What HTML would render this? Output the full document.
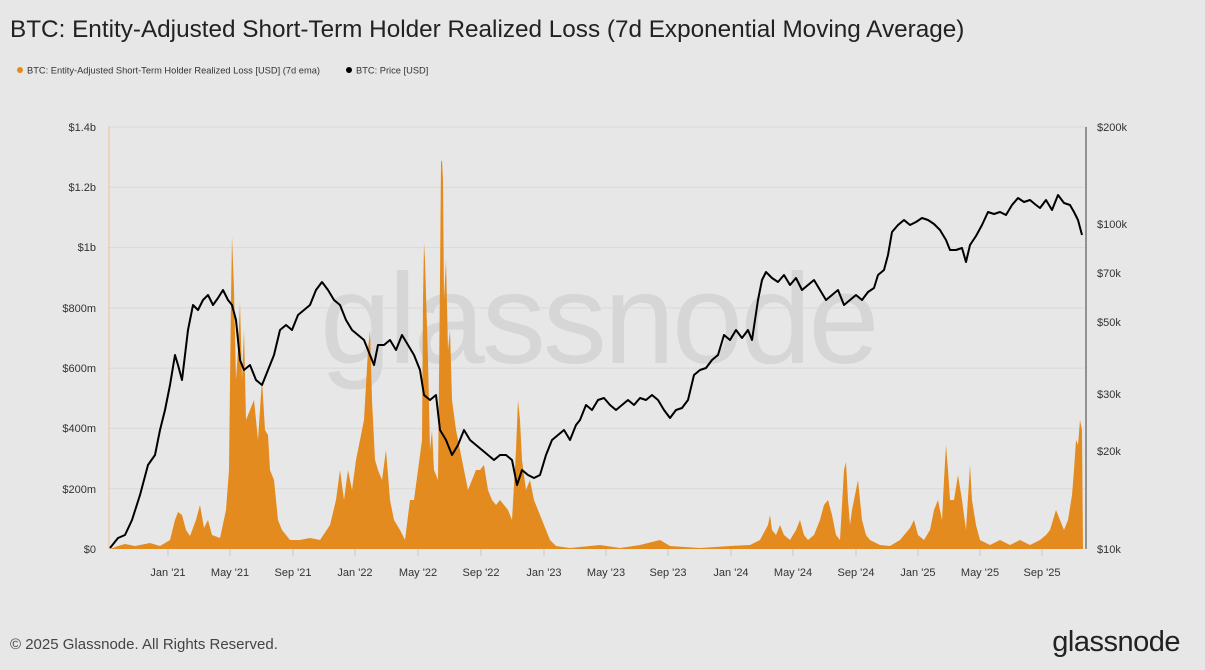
<!DOCTYPE html>
<html><head><meta charset="utf-8"><style>
html,body{margin:0;padding:0;background:#e7e7e7;}
body{width:1205px;height:670px;position:relative;overflow:hidden;font-family:"Liberation Sans",sans-serif;}
</style></head><body>
<svg width="1205" height="670" xmlns="http://www.w3.org/2000/svg" style="position:absolute;left:0;top:0">
<rect width="1205" height="670" fill="#e7e7e7"/>
<text x="10" y="37" font-size="24.3" fill="#222">BTC: Entity-Adjusted Short-Term Holder Realized Loss (7d Exponential Moving Average)</text>
<circle cx="20" cy="70" r="3" fill="#e8891c"/>
<text x="27" y="73.5" font-size="9.3" fill="#333">BTC: Entity-Adjusted Short-Term Holder Realized Loss [USD] (7d ema)</text>
<circle cx="349" cy="70" r="3" fill="#000"/>
<text x="356" y="73.5" font-size="9.3" fill="#333">BTC: Price [USD]</text>
<g stroke="#d9d9d9" stroke-width="1">
<line x1="108" x2="1085" y1="127" y2="127"/><line x1="108" x2="1085" y1="187.3" y2="187.3"/>
<line x1="108" x2="1085" y1="247.6" y2="247.6"/><line x1="108" x2="1085" y1="307.9" y2="307.9"/>
<line x1="108" x2="1085" y1="368.1" y2="368.1"/><line x1="108" x2="1085" y1="428.4" y2="428.4"/>
<line x1="108" x2="1085" y1="488.7" y2="488.7"/>
</g>
<text x="320" y="363" font-size="128" fill="#d6d6d6" letter-spacing="-3">glassnode</text>
<g font-size="11" fill="#333" text-anchor="end">
<text x="96" y="131">$1.4b</text><text x="96" y="191">$1.2b</text><text x="96" y="251">$1b</text>
<text x="96" y="312">$800m</text><text x="96" y="372">$600m</text><text x="96" y="432">$400m</text>
<text x="96" y="493">$200m</text><text x="96" y="553">$0</text>
</g>
<g font-size="11" fill="#333">
<text x="1097" y="131">$200k</text><text x="1097" y="228">$100k</text><text x="1097" y="277">$70k</text>
<text x="1097" y="326">$50k</text><text x="1097" y="398">$30k</text><text x="1097" y="455">$20k</text>
<text x="1097" y="553">$10k</text>
</g>
<g stroke="#c8c8c8" stroke-width="1">
<line x1="168" x2="168" y1="549" y2="556"/><line x1="230" x2="230" y1="549" y2="556"/><line x1="293" x2="293" y1="549" y2="556"/>
<line x1="355" x2="355" y1="549" y2="556"/><line x1="418" x2="418" y1="549" y2="556"/><line x1="481" x2="481" y1="549" y2="556"/>
<line x1="544" x2="544" y1="549" y2="556"/><line x1="606" x2="606" y1="549" y2="556"/><line x1="668" x2="668" y1="549" y2="556"/>
<line x1="731" x2="731" y1="549" y2="556"/><line x1="793" x2="793" y1="549" y2="556"/><line x1="856" x2="856" y1="549" y2="556"/>
<line x1="918" x2="918" y1="549" y2="556"/><line x1="980" x2="980" y1="549" y2="556"/><line x1="1042" x2="1042" y1="549" y2="556"/>
</g>
<g font-size="11" fill="#333" text-anchor="middle">
<text x="168" y="576">Jan '21</text><text x="230" y="576">May '21</text><text x="293" y="576">Sep '21</text>
<text x="355" y="576">Jan '22</text><text x="418" y="576">May '22</text><text x="481" y="576">Sep '22</text>
<text x="544" y="576">Jan '23</text><text x="606" y="576">May '23</text><text x="668" y="576">Sep '23</text>
<text x="731" y="576">Jan '24</text><text x="793" y="576">May '24</text><text x="856" y="576">Sep '24</text>
<text x="918" y="576">Jan '25</text><text x="980" y="576">May '25</text><text x="1042" y="576">Sep '25</text>
</g>
<line x1="109" y1="127" x2="109" y2="549" stroke="#f0c08a" stroke-width="1"/>
<polygon fill="#e38b1f" points="110,549 118,546 125,544 135,546 150,543 160,546 170,540 175,520 178,512 182,515 186,530 190,536 196,520 200,505 204,528 208,520 212,535 220,538 226,510 229,470 231,300 232,236 234,290 236,380 238,350 240,302 242,380 244,330 246,420 250,410 254,400 258,440 262,380 265,430 268,435 270,470 274,480 278,520 282,530 290,540 300,540 310,538 320,540 330,525 336,500 340,470 344,500 348,470 352,490 356,460 360,440 364,420 368,350 370,330 372,400 375,460 378,470 382,480 386,450 390,500 394,520 400,530 405,540 410,500 414,500 418,470 422,440 423,300 424,243 425,260 428,360 430,450 432,430 434,470 438,480 440,280 441,162 442,160 443,180 444,300 446,260 448,350 450,330 452,400 456,430 460,450 464,470 468,490 472,480 476,470 480,470 484,465 488,490 492,500 496,505 500,500 504,505 508,510 512,520 516,450 518,400 520,420 522,460 526,490 530,480 534,500 538,510 542,520 546,530 550,540 556,546 570,548 600,545 620,548 640,545 660,540 670,546 700,548 730,546 750,545 760,540 768,525 770,515 772,530 776,535 780,525 784,535 790,540 796,530 800,520 804,535 808,540 814,535 820,520 824,505 828,500 832,515 836,535 840,540 844,470 846,462 848,500 850,525 852,510 856,490 858,480 862,520 866,535 870,540 880,545 890,546 900,540 910,528 914,520 918,535 924,540 930,530 934,510 938,500 942,520 944,480 946,445 948,470 950,500 954,500 958,475 962,500 966,530 970,465 972,500 976,525 980,540 990,545 1000,540 1010,545 1020,540 1030,545 1040,540 1046,535 1050,530 1056,510 1060,520 1064,530 1068,520 1072,495 1074,470 1076,440 1078,445 1080,420 1082,430 1083,549"/>
<polyline fill="none" stroke="#000" stroke-width="2" stroke-linejoin="round" points="110,548 118,538 125,535 132,520 140,495 148,465 155,455 160,430 165,410 170,385 175,355 178,365 182,380 188,330 193,305 198,310 203,300 208,295 213,305 218,298 223,290 228,300 232,305 236,320 240,360 244,370 250,365 256,380 262,385 268,370 274,355 280,330 286,325 292,330 298,315 304,310 310,305 316,290 322,282 328,290 334,300 340,305 346,320 352,330 358,335 364,340 370,355 374,365 378,345 384,345 390,340 396,350 402,335 408,345 414,355 420,370 424,395 430,400 436,395 440,430 446,440 452,455 458,445 464,430 470,440 476,445 482,450 488,455 494,460 500,455 506,455 512,460 517,485 522,470 528,475 534,478 540,475 546,455 552,440 558,435 564,430 570,440 576,425 580,420 586,405 592,410 598,400 604,398 610,405 616,410 622,405 628,400 634,405 640,398 646,400 652,395 658,400 664,410 670,418 676,410 682,408 688,400 694,375 700,370 706,368 712,360 718,355 724,335 730,340 736,330 742,338 748,330 752,340 758,300 762,280 766,272 772,278 778,282 784,275 790,285 796,278 802,290 808,285 814,280 820,290 826,300 832,295 838,290 844,305 850,300 856,295 862,300 868,292 874,288 878,275 884,270 888,255 892,232 898,225 904,220 910,225 916,222 922,218 928,220 934,224 940,230 946,240 950,250 956,250 962,248 966,262 970,245 976,236 982,225 988,212 994,214 1000,212 1006,215 1012,205 1018,198 1024,202 1030,200 1036,205 1040,208 1046,200 1052,210 1058,195 1064,203 1070,205 1074,212 1078,220 1082,235"/>
<line x1="1086" y1="127" x2="1086" y2="549" stroke="#777" stroke-width="1.5"/>
<text x="10" y="649" font-size="15" fill="#444">© 2025 Glassnode. All Rights Reserved.</text>
<text x="1180" y="651" font-size="29" fill="#222" text-anchor="end" letter-spacing="-0.5">glassnode</text>
</svg>
</body></html>
